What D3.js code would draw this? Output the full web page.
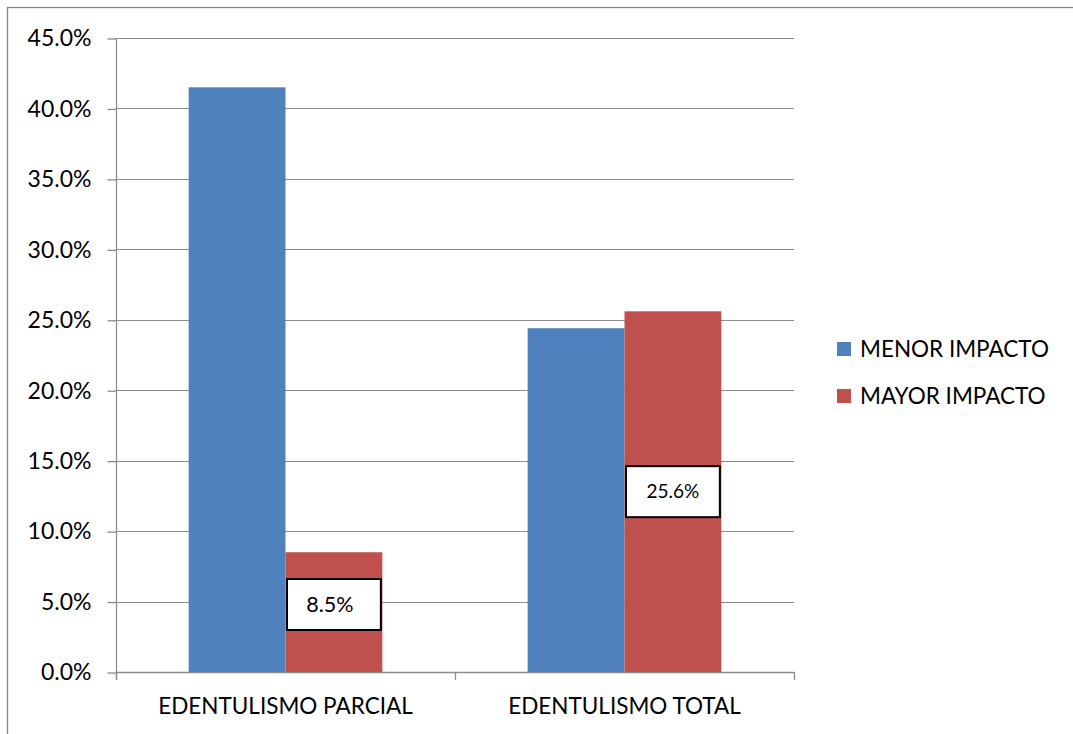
<!DOCTYPE html>
<html>
<head>
<meta charset="utf-8">
<script src="https://cdn.jsdelivr.net/npm/d3@7"></script>
<style>
  html, body { margin: 0; padding: 0; background: #fff; }
  svg { display: block; font-family: Lato, "Open Sans", sans-serif; }
</style>
</head>
<body>
<svg id="chart" width="1073" height="734"></svg>
<script>
// Categories, series and values (percent)
const categories = ["EDENTULISMO PARCIAL", "EDENTULISMO TOTAL"];
const seriesNames = ["MENOR IMPACTO", "MAYOR IMPACTO"];
const seriesColors = ["#4f81bd", "#c0504d"];
const menorImpacto = [41.5, 24.4];
const mayorImpacto = [8.5, 25.6];
const yTicks = [0, 5, 10, 15, 20, 25, 30, 35, 40, 45];
// Which values carry a boxed data label: [series index, category index]
const labelled = [[1, 0], [1, 1]];

const seriesValues = [menorImpacto, mayorImpacto];

const svg = d3.select("#chart");
const W = 1073, H = 734;
const plot = { left: 116, right: 794, top: 38, bottom: 672 };

// Outer chart-area border
svg.append("rect")
  .attr("x", 7.5).attr("y", 7.5)
  .attr("width", W + 20).attr("height", H + 20)
  .attr("fill", "none").attr("stroke", "#868686").attr("stroke-width", 1.3);

const y = d3.scaleLinear().domain([0, 45]).range([plot.bottom, plot.top]);
const x0 = d3.scaleBand().domain(categories).range([plot.left, plot.right]).paddingInner(0).paddingOuter(0);
// gap width 150%: two bars occupy 2/3.5 of each band
const groupW = x0.bandwidth() * 2 / 3.5;
const x1 = d3.scaleBand().domain(seriesNames).range([0, groupW]).padding(0);

// Gridlines
svg.append("g")
  .selectAll("line")
  .data(yTicks)
  .join("line")
  .attr("x1", plot.left).attr("x2", plot.right)
  .attr("y1", d => Math.round(y(d)) + 0.5).attr("y2", d => Math.round(y(d)) + 0.5)
  .attr("stroke", "#8c8c8c").attr("stroke-width", 1.2);

// Y axis
const yAxis = d3.axisLeft(y).tickValues(yTicks).tickSize(9).tickPadding(16)
  .tickFormat(d => d.toFixed(1) + "%");
const gy = svg.append("g").attr("transform", `translate(${plot.left + 0.5},0.5)`).call(yAxis);
gy.select(".domain").attr("d", `M0,${plot.top}V${plot.bottom + 7}`).attr("stroke", "#8c8c8c").attr("stroke-width", 1.3);
gy.selectAll(".tick line").attr("stroke", "#8c8c8c").attr("stroke-width", 1.3);
gy.selectAll(".tick text").attr("font-size", 23).attr("fill", "#000")
  .attr("font-family", "Lato, 'Open Sans', sans-serif");

// X axis: line with tick marks at category boundaries
const gx = svg.append("g");
gx.append("line")
  .attr("x1", plot.left).attr("x2", plot.right)
  .attr("y1", plot.bottom + 0.5).attr("y2", plot.bottom + 0.5)
  .attr("stroke", "#8c8c8c").attr("stroke-width", 1.3);
const boundaries = [plot.left, ...categories.map(c => x0(c) + x0.bandwidth())];
gx.selectAll("line.tk")
  .data(boundaries)
  .join("line").attr("class", "tk")
  .attr("x1", d => Math.round(d) + 0.5).attr("x2", d => Math.round(d) + 0.5)
  .attr("y1", plot.bottom).attr("y2", plot.bottom + 8)
  .attr("stroke", "#8c8c8c").attr("stroke-width", 1.3);
gx.selectAll("text")
  .data(categories)
  .join("text")
  .attr("x", d => x0(d) + x0.bandwidth() / 2)
  .attr("y", 714)
  .attr("text-anchor", "middle")
  .attr("font-size", 22.5)
  .attr("fill", "#000")
  .text(d => d);

// Bars
const groups = svg.append("g").selectAll("g")
  .data(categories)
  .join("g")
  .attr("transform", d => `translate(${x0(d) + (x0.bandwidth() - groupW) / 2},0)`);

groups.selectAll("rect")
  .data((c, ci) => seriesNames.map((s, si) => ({ s, si, v: seriesValues[si][ci] })))
  .join("rect")
  .attr("x", d => x1(d.s))
  .attr("width", x1.bandwidth())
  .attr("y", d => y(d.v))
  .attr("height", d => y(0) - y(d.v))
  .attr("fill", d => seriesColors[d.si]);

// Boxed data labels, centred in the bar
const boxH = 51;
const labels = svg.append("g").selectAll("g")
  .data(labelled.map(([si, ci]) => ({ si, ci, v: seriesValues[si][ci] })))
  .join("g")
  .attr("transform", d => {
    const bx = x0(categories[d.ci]) + (x0.bandwidth() - groupW) / 2 + x1(seriesNames[d.si]);
    let cy = y(d.v / 2);
    cy = Math.min(cy, y(0) - 42 - boxH / 2);
    return `translate(${bx},${cy})`;
  });
labels.append("rect")
  .attr("x", 1.5).attr("y", -boxH / 2)
  .attr("width", x1.bandwidth() - 3).attr("height", boxH)
  .attr("fill", "#fff").attr("stroke", "#000").attr("stroke-width", 2);
labels.append("text")
  .attr("x", d => x1.bandwidth() / 2 - (d.v < 10 ? 4 : 0)).attr("y", 0)
  .attr("dy", "0.35em")
  .attr("text-anchor", "middle")
  .attr("font-size", (d) => d.v < 10 ? 21.5 : 19)
  .attr("fill", "#000")
  .text(d => d.v.toFixed(1) + "%");

// Legend
const legend = svg.append("g").selectAll("g")
  .data(seriesNames)
  .join("g")
  .attr("transform", (d, i) => `translate(837,${349 + i * 47})`);
legend.append("rect")
  .attr("x", 0).attr("y", -7).attr("width", 14).attr("height", 14)
  .attr("fill", (d, i) => seriesColors[i]);
legend.append("text")
  .attr("x", 23).attr("y", 0).attr("dy", "0.35em")
  .attr("font-size", 22.5).attr("fill", "#000")
  .text(d => d);
</script>
</body>
</html>
